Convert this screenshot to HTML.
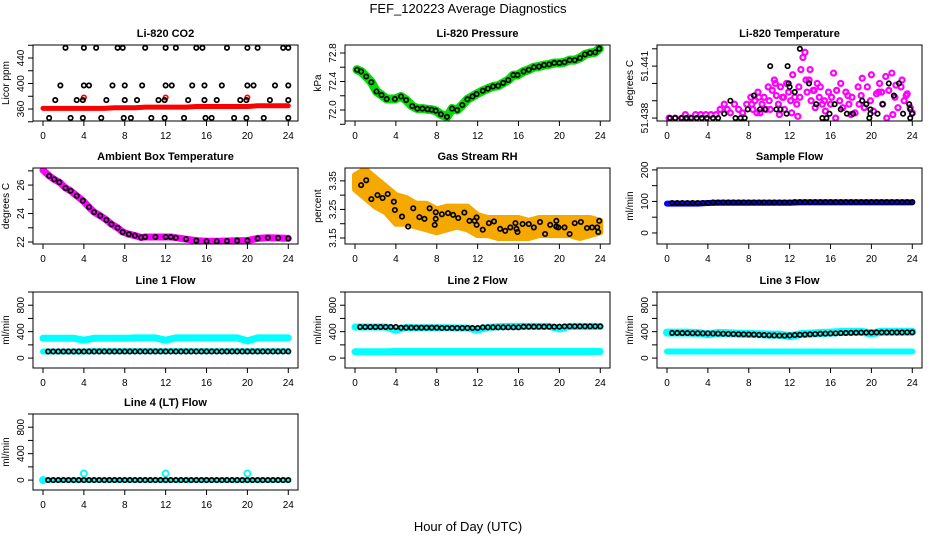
<!DOCTYPE html>
<html><head><meta charset="utf-8"><title>FEF_120223 Average Diagnostics</title>
<style>
html,body{margin:0;padding:0;background:#fff;}
svg{display:block;font-family:"Liberation Sans",Arial,sans-serif;}
</style></head>
<body>
<svg id="chart" width="936" height="540" viewBox="0 0 936 540" xmlns="http://www.w3.org/2000/svg">
<rect width="936" height="540" fill="#fff"/>
<text x="468" y="13" font-size="13" text-anchor="middle">FEF_120223  Average Diagnostics</text>
<text x="468" y="531" font-size="13" text-anchor="middle">Hour of Day (UTC)</text>
</svg>
<script>
// ---------- data ----------
const xTicks = [0,4,8,12,16,20,24];
const hours48 = [0.5,1,1.5,2,2.5,3,3.5,4,4.5,5,5.5,6,6.5,7,7.5,8,8.5,9,9.5,10,10.5,11,11.5,12,12.5,13,13.5,14,14.5,15,15.5,16,16.5,17,17.5,18,18.5,19,19.5,20,20.5,21,21.5,22,22.5,23,23.5,24];
const hours25 = [0,1,2,3,4,5,6,7,8,9,10,11,12,13,14,15,16,17,18,19,20,21,22,23,24];

// Li-820 CO2
const co2RedVals = [361,361,361,361,361,361,361,362,362,362,363,363,363,363,363,364,364,364,364,364,364,365,365,365,365];
const co2RedOutHours = [4,12,20];
const co2RedOutVals = [378,378,378];
const co2BlkHours = [2.2,4,5.2,7.3,7.8,10,12,13,15,15.6,18,20,21,23.5,24, 1.7,4,4.5,6.8,8,9.7,12,12.6,14.6,15.8,17.5,20,20.6,22.7,24, 1.2,3.3,3.9,6.2,8,9.2,11.3,11.9,14.2,15.8,17,19.3,19.9,22.2,24, 0.6,2.7,3.9,5.7,7.9,8.6,10.6,11.9,13.8,15.9,16.5,18.7,19.9,21.6,24];
const co2BlkVals = [456,456,456,456,456,456,456,456,456,456,456,456,456,456,456, 397,397,397,397,397,397,397,397,397,397,397,397,397,397,397, 374,374,374,374,374,374,374,374,374,374,374,374,374,374,374, 346,346,346,346,346,346,346,346,346,346,346,346,346,346,346];

// Li-820 Pressure
const presHours = [0.2,0.6,1.1,1.6,2.1,2.6,3.1,3.9,4.5,5.0,5.6,6.1,6.6,7.1,7.5,7.9,8.4,9.0,9.5,10.0,10.5,11.0,11.5,11.9,12.5,13.0,13.5,14.0,14.5,15.0,15.5,15.9,16.5,17.0,17.5,18.0,18.5,19.0,19.5,20.0,20.5,21.0,21.5,22.0,22.5,23.0,23.5,23.9];
const presVals = [72.565,72.54,72.47,72.39,72.26,72.21,72.155,72.155,72.19,72.14,72.056,72.02,72.02,72.01,72.005,71.99,71.94,71.905,72.02,72.0,72.07,72.15,72.19,72.225,72.27,72.3,72.33,72.34,72.38,72.42,72.49,72.49,72.54,72.565,72.6,72.61,72.63,72.64,72.66,72.66,72.67,72.7,72.7,72.73,72.78,72.8,72.81,72.86];

// Li-820 Temperature
const tempMagHours = [0.2,0.8,1.5,1.8,2.3,2.8,3.3,3.8,4.3,4.8,5.2,5.6,5.9,6.2,6.6,7.0,7.4,7.8,8.2,8.4,8.6,8.8,9.0,9.3,9.5,9.7,10.0,10.3,10.5,10.7,10.9,11.1,11.3,11.5,11.7,11.9,12.1,12.3,12.5,12.7,12.9,13.1,13.3,13.5,13.7,13.9,14.1,14.3,14.5,14.7,14.9,15.2,15.5,15.8,16.0,16.3,16.6,16.9,17.2,17.5,17.8,18.1,18.4,18.7,19.0,19.3,19.6,19.9,20.2,20.5,20.8,21.1,21.4,21.7,22.0,22.3,22.6,22.9,23.2,23.5,23.8,24.0,8.3,9.1,10.1,11.0,12.2,13.0,14.0,15.0,16.1,17.0,18.0,19.1,20.0,21.0,22.1,23.0,21.5,16.5,12.8,8.9,9.9,10.6,11.4,13.6,14.4,15.4,17.7,18.8,20.7,22.4,23.4];
const tempMagVals = [51.4380,51.4380,51.4380,51.4382,51.4380,51.4382,51.4382,51.4382,51.4382,51.4382,51.4385,51.4388,51.4385,51.4383,51.4388,51.4385,51.4383,51.4388,51.4392,51.4385,51.4390,51.4383,51.4392,51.4388,51.4392,51.4385,51.4390,51.4396,51.4402,51.4393,51.4388,51.4398,51.4392,51.4385,51.4400,51.4395,51.4390,51.4405,51.4392,51.4388,51.4398,51.4408,51.4415,51.4418,51.4395,51.4402,51.4390,51.4396,51.4386,51.4400,51.4392,51.4388,51.4384,51.4395,51.4388,51.4406,51.4396,51.4390,51.4386,51.4395,51.4388,51.4392,51.4383,51.4398,51.4393,51.4386,51.4398,51.4390,51.4384,51.4394,51.4400,51.4388,51.4404,51.4396,51.4406,51.4392,51.4386,51.4398,51.4390,51.4394,51.4386,51.4383,51.4388,51.4383,51.4385,51.4382,51.4383,51.4392,51.4408,51.4398,51.4392,51.4400,51.4382,51.4403,51.4405,51.4395,51.4382,51.4402,51.4380,51.4380,51.4381,51.4395,51.4398,51.4400,51.4392,51.4402,51.4396,51.4390,51.4393,51.4388,51.4395,51.4399,51.4393];
const tempBlkHours = [0.3,0.8,1.4,1.9,2.4,2.9,3.4,3.9,4.5,5.0,5.6,6.2,6.7,7.2,7.6,7.9,8.5,9.1,9.6,10.1,10.7,11.1,11.7,11.8,11.9,12.0,12.5,13.0,13.9,14.6,15.2,15.6,15.9,16.4,17.0,17.6,18.2,19.1,19.5,19.8,19.9,19.9,20.6,21.1,21.7,22.2,22.7,23.1,23.7,23.8,23.8,24.0];
const tempBlkVals = [51.4380,51.4380,51.4380,51.4380,51.4380,51.4380,51.4380,51.4380,51.4380,51.4380,51.43825,51.4390,51.4380,51.4380,51.4380,51.4385,51.4393,51.4385,51.4385,51.4410,51.4385,51.4385,51.43825,51.4410,51.4400,51.4398,51.4395,51.4420,51.4400,51.4388,51.4380,51.4380,51.43825,51.4388,51.4385,51.43825,51.43825,51.4390,51.4388,51.4380,51.43825,51.4385,51.43825,51.4388,51.4400,51.4393,51.4400,51.43825,51.4388,51.4385,51.4380,51.43825];

// Ambient Box Temperature
const ambHours = [0,0.6,1.1,1.6,2.2,2.7,3.3,3.9,4.5,5.0,5.6,6.2,6.7,7.3,7.8,8.4,9.0,9.6,10,11,12,12.5,13,14,15,16,17,18,19,20,21,22,23,24];
const ambVals = [27.05,26.65,26.4,26.2,25.8,25.6,25.25,24.9,24.45,24.1,23.85,23.55,23.25,23.0,22.7,22.55,22.45,22.32,22.35,22.35,22.35,22.35,22.3,22.2,22.1,22.05,22.05,22.07,22.1,22.1,22.25,22.3,22.28,22.25];

// Gas Stream RH
const rhHours = [0.6,1.1,1.6,2.2,2.7,3.2,3.8,3.9,4.6,5.2,5.7,6.3,6.8,7.3,7.9,7.9,7.8,8.5,9.1,9.6,10.1,10.7,11.2,11.7,11.9,11.9,12.5,13.1,13.6,14.2,14.7,15.2,15.7,15.8,15.9,16.4,17.0,17.5,18.1,18.6,19.1,19.7,19.7,19.9,20.5,21.0,21.5,22.1,22.7,23.2,23.7,23.8,23.9];
const rhVals = [3.335,3.352,3.286,3.30,3.29,3.304,3.277,3.248,3.225,3.19,3.254,3.223,3.217,3.254,3.24,3.217,3.196,3.233,3.237,3.231,3.22,3.239,3.21,3.21,3.222,3.196,3.179,3.202,3.208,3.182,3.175,3.187,3.202,3.182,3.171,3.199,3.199,3.187,3.206,3.164,3.196,3.21,3.19,3.187,3.187,3.164,3.202,3.206,3.185,3.187,3.187,3.171,3.21];
const rhUpper = [3.37,3.39,3.36,3.33,3.30,3.29,3.27,3.27,3.25,3.26,3.26,3.26,3.23,3.22,3.22,3.22,3.22,3.21,3.22,3.22,3.22,3.22,3.22,3.22,3.21];
const rhLower = [3.32,3.29,3.26,3.24,3.20,3.20,3.19,3.18,3.17,3.18,3.19,3.18,3.16,3.16,3.15,3.15,3.15,3.15,3.16,3.16,3.16,3.16,3.15,3.16,3.17];

// Sample Flow
const sampleBlk = [95,95,95,95,95,95,95,95,97,97,97,97,97,97,97,97,97,97,97,97,97,97,97,97,98,98,98,98,98,98,98,98,98,98,98,98,98,98,98,98,98,98,98,98,98,98,98,98];
const sampleBand = [93,93,93,93,95,96,96,96,96,96,96,96,96,97,97,97,97,97,97,97,97,97,97,97,97];

// Line flows
const line1Blk = [100,100,100,100,100,100,100,100,100,100,100,100,100,100,100,100,100,100,100,100,100,100,100,100,100,100,100,100,100,100,100,100,100,100,100,100,100,100,100,100,100,100,100,100,100,100,100,100];
const line1CyanHi = [300,300,300,300,270,300,300,300,300,305,305,305,270,305,305,305,305,305,305,305,260,305,305,305,305];
const line1CyanLo = [100,100,100,100,100,105,105,105,105,105,105,105,105,105,105,105,105,105,105,105,105,105,105,105,105];
const line2Blk = [470,470,470,470,470,470,470,470,460,460,460,460,460,460,460,460,455,455,455,455,455,455,455,455,465,465,465,465,465,465,465,465,475,475,475,475,475,475,475,475,480,480,480,480,480,480,480,480];
const line2CyanHi = [470,470,470,470,420,465,460,460,460,460,455,455,420,465,475,480,480,480,480,480,440,480,480,480,480];
const line2CyanLo = [95,95,95,95,100,100,100,100,100,100,100,100,100,100,100,100,100,100,100,100,100,100,100,100,100];
const line3Blk = [380,380,378,378,376,376,374,374,372,370,368,366,364,362,360,358,356,352,348,345,342,340,340,342,348,352,356,360,364,368,370,372,374,378,380,382,384,386,386,386,388,388,388,388,388,388,390,390];
const line3CyanHi = [385,385,385,380,360,380,375,370,365,360,355,355,330,360,370,380,385,395,400,400,370,400,400,400,400];
const line3CyanLo = [100,100,100,100,100,100,100,100,100,100,100,100,100,100,100,100,100,100,100,100,100,100,100,100,100];
const line4Blk = [0,0,0,0,0,0,0,0,0,0,0,0,0,0,0,0,0,0,0,0,0,0,0,0,0,0,0,0,0,0,0,0,0,0,0,0,0,0,0,0,0,0,0,0,0,0,0,0];
const line4CyanBand = [0,0,0,0,0,0,0,0,0,0,0,0,0,0,0,0,0,0,0,0,0,0,0,0,0];
const line4SpikeHours = [0,4,12,20];
const line4SpikeVals = [0,100,100,100];

// ---------- drawing ----------
const NS = "http://www.w3.org/2000/svg";
const svg = document.getElementById('chart');
const BOX_W = 265, BOX_H = 76;
const colLeft = [33,345,657];
const rowTop = [45,168,292,414];
const PR = 2.2, PW = 1.7;

function mk(tag, attrs, parent){
  const e = document.createElementNS(NS, tag);
  for (const k in attrs) e.setAttribute(k, attrs[k]);
  (parent||svg).appendChild(e);
  return e;
}

function makePanel(col,row,title,ylab,ymin,ymax,yticks,ylabels,name){
  const L = colLeft[col], T = rowTop[row];
  const g = mk('g',{});
  
  
  const p = {g, L, T, ymin, ymax,
    x: h => L + 10 + h*10.22,
    y: v => T + (ymax - v)/(ymax - ymin)*BOX_H};
  const clip = mk('clipPath',{id:'clip-'+name}, g);
  mk('rect',{x:L,y:T,width:BOX_W,height:BOX_H}, clip);
  p.plot = mk('g',{'clip-path':'url(#clip-'+name+')'}, g);
  
  
  const t = mk('text',{x:L+BOX_W/2,y:T-8,'font-size':11,'font-weight':'bold','text-anchor':'middle'}, g);
  t.textContent = title;
  
  
  const xa = mk('g',{}, g);
  
  
  mk('line',{x1:p.x(0),x2:p.x(24),y1:T+BOX_H,y2:T+BOX_H,stroke:'#000'}, xa);
  xTicks.forEach(v=>{
    mk('line',{x1:p.x(v),x2:p.x(v),y1:T+BOX_H,y2:T+BOX_H+5,stroke:'#000'}, xa);
    const tl = mk('text',{x:p.x(v),y:T+BOX_H+18,'font-size':10,'text-anchor':'middle'}, xa);
    tl.textContent = v;
    
    
  });
  const ya = mk('g',{}, g);
  
  
  mk('line',{x1:L,x2:L,y1:p.y(yticks[0]),y2:p.y(yticks[yticks.length-1]),stroke:'#000'}, ya);
  yticks.forEach(v=>{
    mk('line',{x1:L-5,x2:L,y1:p.y(v),y2:p.y(v),stroke:'#000'}, ya);
  });
  ylabels.forEach(v=>{
    const yy = p.y(parseFloat(v)), xx = L-9;
    const tl = mk('text',{x:xx,y:yy,'font-size':10,'text-anchor':'middle',transform:'rotate(-90 '+xx+' '+yy+')'}, ya);
    tl.textContent = v;
    
    
  });
  const yl = mk('text',{x:L-24,y:T+BOX_H/2,'font-size':10,'text-anchor':'middle',transform:'rotate(-90 '+(L-24)+' '+(T+BOX_H/2)+')'}, g);
  yl.textContent = ylab;
  
  
  const fr = mk('rect',{x:L,y:T,width:BOX_W,height:BOX_H,fill:'none',stroke:'#000'}, g);
  
  
  return p;
}

function points(p, hs, vs, color, r, sw, nm){
  const g = mk('g',{}, p.plot);
  
  
  for (let i=0;i<hs.length;i++){
    const c = mk('circle',{cx:p.x(hs[i]),cy:p.y(vs[i]),r:r,fill:'none',stroke:color,'stroke-width':sw}, g);
    
    
  }
}
function band(p, hs, vs, color, w, nm){
  const d = hs.map((h,i)=>(i?'L':'M')+p.x(h).toFixed(1)+' '+p.y(vs[i]).toFixed(1)).join(' ');
  const e = mk('path',{d:d,fill:'none',stroke:color,'stroke-width':w,'stroke-linecap':'round','stroke-linejoin':'round'}, p.plot);
  
  
}
function area(p, hs, hi, lo, color, nm){
  let d = hs.map((h,i)=>(i?'L':'M')+p.x(h).toFixed(1)+' '+p.y(hi[i]).toFixed(1)).join(' ');
  for (let i=hs.length-1;i>=0;i--) d += ' L'+p.x(hs[i]).toFixed(1)+' '+p.y(lo[i]).toFixed(1);
  d += ' Z';
  const e = mk('path',{d:d,fill:color,stroke:color,'stroke-width':6,'stroke-linejoin':'round'}, p.plot);
  
  
}

const flowTicks = [0,200,400,600,800,1000], flowLabels = ['0','400','800'];

let p = makePanel(0,0,'Li-820 CO2','Licor ppm',341.2,460.4,[340,360,380,400,420,440,460],['360','400','440'],'co2');
band(p, hours25, co2RedVals, '#ff0000', 5, 'co2-red-band');
points(p, co2RedOutHours, co2RedOutVals, '#ff0000', PR, PW, 'co2-red-series');
points(p, co2BlkHours, co2BlkVals, '#000', PR, PW, 'co2-black-series');

p = makePanel(1,0,'Li-820 Pressure','kPa',71.846,72.912,[71.8,72.0,72.2,72.4,72.6,72.8],['72.0','72.4','72.8'],'pressure');
band(p, presHours, presVals, '#00dd00', 9, 'pressure-green-band');
points(p, presHours, presVals, '#000', PR, PW, 'pressure-black-series');

p = makePanel(2,0,'Li-820 Temperature','degrees C',51.43783,51.44222,[51.438,51.439,51.440,51.441,51.442],['51.438','51.441'],'li820-temp');
points(p, tempMagHours, tempMagVals, '#ff00ff', 2.5, 2.2, 'temp-magenta-series');
points(p, tempBlkHours, tempBlkVals, '#000', PR, PW, 'temp-black-series');

p = makePanel(0,1,'Ambient Box Temperature','degrees C',21.86,27.2,[22,23,24,25,26,27],['22','24','26'],'ambient');
band(p, ambHours, ambVals, '#ff00ff', 7, 'ambient-magenta-band');
points(p, ambHours.slice(1), ambVals.slice(1), '#000', PR, PW, 'ambient-black-series');

p = makePanel(1,1,'Gas Stream RH','percent',3.129,3.395,[3.15,3.20,3.25,3.30,3.35],['3.15','3.25','3.35'],'rh');
area(p, hours25, rhUpper, rhLower, '#f5a800', 'rh-orange-cloud');
points(p, rhHours, rhVals, '#000', PR, PW, 'rh-black-series');

p = makePanel(2,1,'Sample Flow','ml/min',-35,206,[0,50,100,150,200],['0','100','200'],'sample-flow');
band(p, hours25, sampleBand, '#0000ff', 6, 'sample-blue-band');
points(p, hours48, sampleBlk, '#000', PR, PW, 'sample-black-series');

p = makePanel(0,2,'Line 1 Flow','ml/min',-150,1000,flowTicks,flowLabels,'line1');
band(p, hours25, line1CyanHi, '#00ffff', 7, 'line1-cyan-upper');
band(p, hours25, line1CyanLo, '#00ffff', 6, 'line1-cyan-lower');
points(p, hours48, line1Blk, '#000', PR, PW, 'line1-black-series');

p = makePanel(1,2,'Line 2 Flow','ml/min',-150,1000,flowTicks,flowLabels,'line2');
band(p, hours25, line2CyanHi, '#00ffff', 7, 'line2-cyan-upper');
band(p, hours25, line2CyanLo, '#00ffff', 7, 'line2-cyan-lower');
points(p, hours48, line2Blk, '#000', PR, PW, 'line2-black-series');

p = makePanel(2,2,'Line 3 Flow','ml/min',-150,1000,flowTicks,flowLabels,'line3');
band(p, hours25, line3CyanHi, '#00ffff', 8, 'line3-cyan-upper');
band(p, hours25, line3CyanLo, '#00ffff', 6, 'line3-cyan-lower');
points(p, hours48, line3Blk, '#000', PR, PW, 'line3-black-series');

p = makePanel(0,3,'Line 4 (LT) Flow','ml/min',-150,1000,flowTicks,flowLabels,'line4');
band(p, hours25, line4CyanBand, '#00ffff', 5, 'line4-cyan-band');
points(p, line4SpikeHours, line4SpikeVals, '#00ffff', 3, 2, 'line4-cyan-spikes');
points(p, hours48, line4Blk, '#000', PR, PW, 'line4-black-series');
</script>
</body></html>
